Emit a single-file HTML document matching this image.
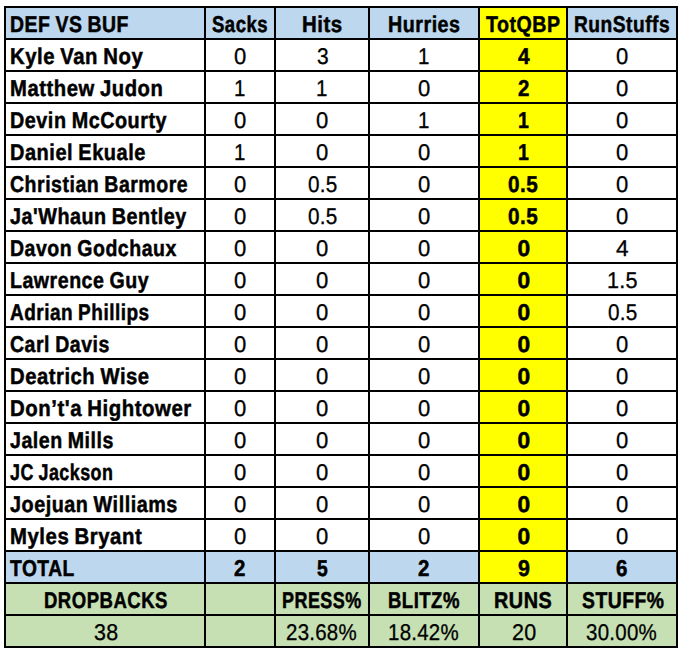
<!DOCTYPE html>
<html><head><meta charset="utf-8"><style>
html,body{margin:0;padding:0;background:#fff;width:684px;height:658px;overflow:hidden;}
body{position:relative;font-family:"Liberation Sans",sans-serif;color:#000;text-rendering:geometricPrecision;}
.g{position:absolute;left:4px;top:6px;width:674px;height:642px;background:#000;}
.c{position:absolute;}
.t{position:absolute;white-space:nowrap;line-height:0;font-size:22.75px;transform-origin:0 0;}
.b{font-weight:bold;}
.t{-webkit-text-stroke:0.3px #000;letter-spacing:0.3px;}
.t.b{-webkit-text-stroke:0.5px #000;letter-spacing:0.6px;word-spacing:-1px;}
</style></head><body>
<div class="g"></div>

<div class="c" style="left:6px;top:8px;width:198px;height:30px;background:#BDD7EE"></div>
<div class="c" style="left:206px;top:8px;width:68px;height:30px;background:#BDD7EE"></div>
<div class="c" style="left:276px;top:8px;width:92px;height:30px;background:#BDD7EE"></div>
<div class="c" style="left:370px;top:8px;width:108px;height:30px;background:#BDD7EE"></div>
<div class="c" style="left:480px;top:8px;width:86px;height:30px;background:#FFFF00"></div>
<div class="c" style="left:568px;top:8px;width:108px;height:30px;background:#BDD7EE"></div>
<div class="c" style="left:6px;top:40px;width:198px;height:30px;background:#FFFFFF"></div>
<div class="c" style="left:206px;top:40px;width:68px;height:30px;background:#FFFFFF"></div>
<div class="c" style="left:276px;top:40px;width:92px;height:30px;background:#FFFFFF"></div>
<div class="c" style="left:370px;top:40px;width:108px;height:30px;background:#FFFFFF"></div>
<div class="c" style="left:480px;top:40px;width:86px;height:30px;background:#FFFF00"></div>
<div class="c" style="left:568px;top:40px;width:108px;height:30px;background:#FFFFFF"></div>
<div class="c" style="left:6px;top:72px;width:198px;height:30px;background:#FFFFFF"></div>
<div class="c" style="left:206px;top:72px;width:68px;height:30px;background:#FFFFFF"></div>
<div class="c" style="left:276px;top:72px;width:92px;height:30px;background:#FFFFFF"></div>
<div class="c" style="left:370px;top:72px;width:108px;height:30px;background:#FFFFFF"></div>
<div class="c" style="left:480px;top:72px;width:86px;height:30px;background:#FFFF00"></div>
<div class="c" style="left:568px;top:72px;width:108px;height:30px;background:#FFFFFF"></div>
<div class="c" style="left:6px;top:104px;width:198px;height:30px;background:#FFFFFF"></div>
<div class="c" style="left:206px;top:104px;width:68px;height:30px;background:#FFFFFF"></div>
<div class="c" style="left:276px;top:104px;width:92px;height:30px;background:#FFFFFF"></div>
<div class="c" style="left:370px;top:104px;width:108px;height:30px;background:#FFFFFF"></div>
<div class="c" style="left:480px;top:104px;width:86px;height:30px;background:#FFFF00"></div>
<div class="c" style="left:568px;top:104px;width:108px;height:30px;background:#FFFFFF"></div>
<div class="c" style="left:6px;top:136px;width:198px;height:30px;background:#FFFFFF"></div>
<div class="c" style="left:206px;top:136px;width:68px;height:30px;background:#FFFFFF"></div>
<div class="c" style="left:276px;top:136px;width:92px;height:30px;background:#FFFFFF"></div>
<div class="c" style="left:370px;top:136px;width:108px;height:30px;background:#FFFFFF"></div>
<div class="c" style="left:480px;top:136px;width:86px;height:30px;background:#FFFF00"></div>
<div class="c" style="left:568px;top:136px;width:108px;height:30px;background:#FFFFFF"></div>
<div class="c" style="left:6px;top:168px;width:198px;height:30px;background:#FFFFFF"></div>
<div class="c" style="left:206px;top:168px;width:68px;height:30px;background:#FFFFFF"></div>
<div class="c" style="left:276px;top:168px;width:92px;height:30px;background:#FFFFFF"></div>
<div class="c" style="left:370px;top:168px;width:108px;height:30px;background:#FFFFFF"></div>
<div class="c" style="left:480px;top:168px;width:86px;height:30px;background:#FFFF00"></div>
<div class="c" style="left:568px;top:168px;width:108px;height:30px;background:#FFFFFF"></div>
<div class="c" style="left:6px;top:200px;width:198px;height:30px;background:#FFFFFF"></div>
<div class="c" style="left:206px;top:200px;width:68px;height:30px;background:#FFFFFF"></div>
<div class="c" style="left:276px;top:200px;width:92px;height:30px;background:#FFFFFF"></div>
<div class="c" style="left:370px;top:200px;width:108px;height:30px;background:#FFFFFF"></div>
<div class="c" style="left:480px;top:200px;width:86px;height:30px;background:#FFFF00"></div>
<div class="c" style="left:568px;top:200px;width:108px;height:30px;background:#FFFFFF"></div>
<div class="c" style="left:6px;top:232px;width:198px;height:30px;background:#FFFFFF"></div>
<div class="c" style="left:206px;top:232px;width:68px;height:30px;background:#FFFFFF"></div>
<div class="c" style="left:276px;top:232px;width:92px;height:30px;background:#FFFFFF"></div>
<div class="c" style="left:370px;top:232px;width:108px;height:30px;background:#FFFFFF"></div>
<div class="c" style="left:480px;top:232px;width:86px;height:30px;background:#FFFF00"></div>
<div class="c" style="left:568px;top:232px;width:108px;height:30px;background:#FFFFFF"></div>
<div class="c" style="left:6px;top:264px;width:198px;height:30px;background:#FFFFFF"></div>
<div class="c" style="left:206px;top:264px;width:68px;height:30px;background:#FFFFFF"></div>
<div class="c" style="left:276px;top:264px;width:92px;height:30px;background:#FFFFFF"></div>
<div class="c" style="left:370px;top:264px;width:108px;height:30px;background:#FFFFFF"></div>
<div class="c" style="left:480px;top:264px;width:86px;height:30px;background:#FFFF00"></div>
<div class="c" style="left:568px;top:264px;width:108px;height:30px;background:#FFFFFF"></div>
<div class="c" style="left:6px;top:296px;width:198px;height:30px;background:#FFFFFF"></div>
<div class="c" style="left:206px;top:296px;width:68px;height:30px;background:#FFFFFF"></div>
<div class="c" style="left:276px;top:296px;width:92px;height:30px;background:#FFFFFF"></div>
<div class="c" style="left:370px;top:296px;width:108px;height:30px;background:#FFFFFF"></div>
<div class="c" style="left:480px;top:296px;width:86px;height:30px;background:#FFFF00"></div>
<div class="c" style="left:568px;top:296px;width:108px;height:30px;background:#FFFFFF"></div>
<div class="c" style="left:6px;top:328px;width:198px;height:30px;background:#FFFFFF"></div>
<div class="c" style="left:206px;top:328px;width:68px;height:30px;background:#FFFFFF"></div>
<div class="c" style="left:276px;top:328px;width:92px;height:30px;background:#FFFFFF"></div>
<div class="c" style="left:370px;top:328px;width:108px;height:30px;background:#FFFFFF"></div>
<div class="c" style="left:480px;top:328px;width:86px;height:30px;background:#FFFF00"></div>
<div class="c" style="left:568px;top:328px;width:108px;height:30px;background:#FFFFFF"></div>
<div class="c" style="left:6px;top:360px;width:198px;height:30px;background:#FFFFFF"></div>
<div class="c" style="left:206px;top:360px;width:68px;height:30px;background:#FFFFFF"></div>
<div class="c" style="left:276px;top:360px;width:92px;height:30px;background:#FFFFFF"></div>
<div class="c" style="left:370px;top:360px;width:108px;height:30px;background:#FFFFFF"></div>
<div class="c" style="left:480px;top:360px;width:86px;height:30px;background:#FFFF00"></div>
<div class="c" style="left:568px;top:360px;width:108px;height:30px;background:#FFFFFF"></div>
<div class="c" style="left:6px;top:392px;width:198px;height:30px;background:#FFFFFF"></div>
<div class="c" style="left:206px;top:392px;width:68px;height:30px;background:#FFFFFF"></div>
<div class="c" style="left:276px;top:392px;width:92px;height:30px;background:#FFFFFF"></div>
<div class="c" style="left:370px;top:392px;width:108px;height:30px;background:#FFFFFF"></div>
<div class="c" style="left:480px;top:392px;width:86px;height:30px;background:#FFFF00"></div>
<div class="c" style="left:568px;top:392px;width:108px;height:30px;background:#FFFFFF"></div>
<div class="c" style="left:6px;top:424px;width:198px;height:30px;background:#FFFFFF"></div>
<div class="c" style="left:206px;top:424px;width:68px;height:30px;background:#FFFFFF"></div>
<div class="c" style="left:276px;top:424px;width:92px;height:30px;background:#FFFFFF"></div>
<div class="c" style="left:370px;top:424px;width:108px;height:30px;background:#FFFFFF"></div>
<div class="c" style="left:480px;top:424px;width:86px;height:30px;background:#FFFF00"></div>
<div class="c" style="left:568px;top:424px;width:108px;height:30px;background:#FFFFFF"></div>
<div class="c" style="left:6px;top:456px;width:198px;height:30px;background:#FFFFFF"></div>
<div class="c" style="left:206px;top:456px;width:68px;height:30px;background:#FFFFFF"></div>
<div class="c" style="left:276px;top:456px;width:92px;height:30px;background:#FFFFFF"></div>
<div class="c" style="left:370px;top:456px;width:108px;height:30px;background:#FFFFFF"></div>
<div class="c" style="left:480px;top:456px;width:86px;height:30px;background:#FFFF00"></div>
<div class="c" style="left:568px;top:456px;width:108px;height:30px;background:#FFFFFF"></div>
<div class="c" style="left:6px;top:488px;width:198px;height:30px;background:#FFFFFF"></div>
<div class="c" style="left:206px;top:488px;width:68px;height:30px;background:#FFFFFF"></div>
<div class="c" style="left:276px;top:488px;width:92px;height:30px;background:#FFFFFF"></div>
<div class="c" style="left:370px;top:488px;width:108px;height:30px;background:#FFFFFF"></div>
<div class="c" style="left:480px;top:488px;width:86px;height:30px;background:#FFFF00"></div>
<div class="c" style="left:568px;top:488px;width:108px;height:30px;background:#FFFFFF"></div>
<div class="c" style="left:6px;top:520px;width:198px;height:30px;background:#FFFFFF"></div>
<div class="c" style="left:206px;top:520px;width:68px;height:30px;background:#FFFFFF"></div>
<div class="c" style="left:276px;top:520px;width:92px;height:30px;background:#FFFFFF"></div>
<div class="c" style="left:370px;top:520px;width:108px;height:30px;background:#FFFFFF"></div>
<div class="c" style="left:480px;top:520px;width:86px;height:30px;background:#FFFF00"></div>
<div class="c" style="left:568px;top:520px;width:108px;height:30px;background:#FFFFFF"></div>
<div class="c" style="left:6px;top:552px;width:198px;height:30px;background:#BDD7EE"></div>
<div class="c" style="left:206px;top:552px;width:68px;height:30px;background:#BDD7EE"></div>
<div class="c" style="left:276px;top:552px;width:92px;height:30px;background:#BDD7EE"></div>
<div class="c" style="left:370px;top:552px;width:108px;height:30px;background:#BDD7EE"></div>
<div class="c" style="left:480px;top:552px;width:86px;height:30px;background:#FFFF00"></div>
<div class="c" style="left:568px;top:552px;width:108px;height:30px;background:#BDD7EE"></div>
<div class="c" style="left:6px;top:584px;width:198px;height:30px;background:#C6E0B4"></div>
<div class="c" style="left:206px;top:584px;width:68px;height:30px;background:#C6E0B4"></div>
<div class="c" style="left:276px;top:584px;width:92px;height:30px;background:#C6E0B4"></div>
<div class="c" style="left:370px;top:584px;width:108px;height:30px;background:#C6E0B4"></div>
<div class="c" style="left:480px;top:584px;width:86px;height:30px;background:#C6E0B4"></div>
<div class="c" style="left:568px;top:584px;width:108px;height:30px;background:#C6E0B4"></div>
<div class="c" style="left:6px;top:616px;width:198px;height:30px;background:#C6E0B4"></div>
<div class="c" style="left:206px;top:616px;width:68px;height:30px;background:#C6E0B4"></div>
<div class="c" style="left:276px;top:616px;width:92px;height:30px;background:#C6E0B4"></div>
<div class="c" style="left:370px;top:616px;width:108px;height:30px;background:#C6E0B4"></div>
<div class="c" style="left:480px;top:616px;width:86px;height:30px;background:#C6E0B4"></div>
<div class="c" style="left:568px;top:616px;width:108px;height:30px;background:#C6E0B4"></div>
<div class="t b" style="left:10.33px;top:23.70px;transform:scaleX(0.8541)">DEF VS BUF</div>
<div class="t b" style="left:212.09px;top:23.70px;transform:scaleX(0.8149)">Sacks</div>
<div class="t b" style="left:301.78px;top:23.70px;transform:scaleX(0.8982)">Hits</div>
<div class="t b" style="left:387.92px;top:23.70px;transform:scaleX(0.8652)">Hurries</div>
<div class="t b" style="left:486.30px;top:23.70px;transform:scaleX(0.8608)">TotQBP</div>
<div class="t b" style="left:574.05px;top:23.70px;transform:scaleX(0.8430)">RunStuffs</div>
<div class="t b" style="left:10.18px;top:55.70px;transform:scaleX(0.8927)">Kyle Van Noy</div>
<div class="t" style="left:234.12px;top:55.70px;transform:scaleX(0.9700)">0</div>
<div class="t" style="left:316.55px;top:55.70px;transform:scaleX(0.9200)">3</div>
<div class="t" style="left:418.34px;top:55.70px;transform:scaleX(0.9000)">1</div>
<div class="t b" style="left:518.13px;top:55.70px;transform:scaleX(0.9200)">4</div>
<div class="t" style="left:616.12px;top:55.70px;transform:scaleX(0.9700)">0</div>
<div class="t b" style="left:10.19px;top:87.70px;transform:scaleX(0.8898)">Matthew Judon</div>
<div class="t" style="left:234.34px;top:87.70px;transform:scaleX(0.9000)">1</div>
<div class="t" style="left:316.34px;top:87.70px;transform:scaleX(0.9000)">1</div>
<div class="t" style="left:418.12px;top:87.70px;transform:scaleX(0.9700)">0</div>
<div class="t b" style="left:518.38px;top:87.70px;transform:scaleX(0.9000)">2</div>
<div class="t" style="left:616.12px;top:87.70px;transform:scaleX(0.9700)">0</div>
<div class="t b" style="left:10.21px;top:119.70px;transform:scaleX(0.8698)">Devin McCourty</div>
<div class="t" style="left:234.12px;top:119.70px;transform:scaleX(0.9700)">0</div>
<div class="t" style="left:316.12px;top:119.70px;transform:scaleX(0.9700)">0</div>
<div class="t" style="left:418.34px;top:119.70px;transform:scaleX(0.9000)">1</div>
<div class="t b" style="left:518.19px;top:119.70px;transform:scaleX(0.8600)">1</div>
<div class="t" style="left:616.12px;top:119.70px;transform:scaleX(0.9700)">0</div>
<div class="t b" style="left:10.20px;top:151.70px;transform:scaleX(0.8788)">Daniel Ekuale</div>
<div class="t" style="left:234.34px;top:151.70px;transform:scaleX(0.9000)">1</div>
<div class="t" style="left:316.12px;top:151.70px;transform:scaleX(0.9700)">0</div>
<div class="t" style="left:418.12px;top:151.70px;transform:scaleX(0.9700)">0</div>
<div class="t b" style="left:518.19px;top:151.70px;transform:scaleX(0.8600)">1</div>
<div class="t" style="left:616.12px;top:151.70px;transform:scaleX(0.9700)">0</div>
<div class="t b" style="left:10.16px;top:183.70px;transform:scaleX(0.8578)">Christian Barmore</div>
<div class="t" style="left:234.12px;top:183.70px;transform:scaleX(0.9700)">0</div>
<div class="t" style="left:308.33px;top:183.70px;transform:scaleX(0.9100)">0.5</div>
<div class="t" style="left:418.12px;top:183.70px;transform:scaleX(0.9700)">0</div>
<div class="t b" style="left:507.87px;top:183.70px;transform:scaleX(0.9100)">0.5</div>
<div class="t" style="left:616.12px;top:183.70px;transform:scaleX(0.9700)">0</div>
<div class="t b" style="left:10.10px;top:215.70px;transform:scaleX(0.8684)">Ja'Whaun Bentley</div>
<div class="t" style="left:234.12px;top:215.70px;transform:scaleX(0.9700)">0</div>
<div class="t" style="left:308.33px;top:215.70px;transform:scaleX(0.9100)">0.5</div>
<div class="t" style="left:418.12px;top:215.70px;transform:scaleX(0.9700)">0</div>
<div class="t b" style="left:507.87px;top:215.70px;transform:scaleX(0.9100)">0.5</div>
<div class="t" style="left:616.12px;top:215.70px;transform:scaleX(0.9700)">0</div>
<div class="t b" style="left:10.23px;top:247.70px;transform:scaleX(0.8576)">Davon Godchaux</div>
<div class="t" style="left:234.12px;top:247.70px;transform:scaleX(0.9700)">0</div>
<div class="t" style="left:316.12px;top:247.70px;transform:scaleX(0.9700)">0</div>
<div class="t" style="left:418.12px;top:247.70px;transform:scaleX(0.9700)">0</div>
<div class="t b" style="left:517.62px;top:247.70px;transform:scaleX(1.0000)">0</div>
<div class="t" style="left:615.92px;top:247.70px;transform:scaleX(1.0000)">4</div>
<div class="t b" style="left:10.23px;top:279.70px;transform:scaleX(0.8600)">Lawrence Guy</div>
<div class="t" style="left:234.12px;top:279.70px;transform:scaleX(0.9700)">0</div>
<div class="t" style="left:316.12px;top:279.70px;transform:scaleX(0.9700)">0</div>
<div class="t" style="left:418.12px;top:279.70px;transform:scaleX(0.9700)">0</div>
<div class="t b" style="left:517.62px;top:279.70px;transform:scaleX(1.0000)">0</div>
<div class="t" style="left:607.33px;top:279.70px;transform:scaleX(0.9500)">1.5</div>
<div class="t b" style="left:10.29px;top:311.70px;transform:scaleX(0.8350)">Adrian Phillips</div>
<div class="t" style="left:234.12px;top:311.70px;transform:scaleX(0.9700)">0</div>
<div class="t" style="left:316.12px;top:311.70px;transform:scaleX(0.9700)">0</div>
<div class="t" style="left:418.12px;top:311.70px;transform:scaleX(0.9700)">0</div>
<div class="t b" style="left:517.62px;top:311.70px;transform:scaleX(1.0000)">0</div>
<div class="t" style="left:608.33px;top:311.70px;transform:scaleX(0.9100)">0.5</div>
<div class="t b" style="left:10.16px;top:343.70px;transform:scaleX(0.8586)">Carl Davis</div>
<div class="t" style="left:234.12px;top:343.70px;transform:scaleX(0.9700)">0</div>
<div class="t" style="left:316.12px;top:343.70px;transform:scaleX(0.9700)">0</div>
<div class="t" style="left:418.12px;top:343.70px;transform:scaleX(0.9700)">0</div>
<div class="t b" style="left:517.62px;top:343.70px;transform:scaleX(1.0000)">0</div>
<div class="t" style="left:616.12px;top:343.70px;transform:scaleX(0.9700)">0</div>
<div class="t b" style="left:10.19px;top:375.70px;transform:scaleX(0.8892)">Deatrich Wise</div>
<div class="t" style="left:234.12px;top:375.70px;transform:scaleX(0.9700)">0</div>
<div class="t" style="left:316.12px;top:375.70px;transform:scaleX(0.9700)">0</div>
<div class="t" style="left:418.12px;top:375.70px;transform:scaleX(0.9700)">0</div>
<div class="t b" style="left:517.62px;top:375.70px;transform:scaleX(1.0000)">0</div>
<div class="t" style="left:616.12px;top:375.70px;transform:scaleX(0.9700)">0</div>
<div class="t b" style="left:10.18px;top:407.70px;transform:scaleX(0.8960)">Don’t'a Hightower</div>
<div class="t" style="left:234.12px;top:407.70px;transform:scaleX(0.9700)">0</div>
<div class="t" style="left:316.12px;top:407.70px;transform:scaleX(0.9700)">0</div>
<div class="t" style="left:418.12px;top:407.70px;transform:scaleX(0.9700)">0</div>
<div class="t b" style="left:517.62px;top:407.70px;transform:scaleX(1.0000)">0</div>
<div class="t" style="left:616.12px;top:407.70px;transform:scaleX(0.9700)">0</div>
<div class="t b" style="left:10.10px;top:439.70px;transform:scaleX(0.8611)">Jalen Mills</div>
<div class="t" style="left:234.12px;top:439.70px;transform:scaleX(0.9700)">0</div>
<div class="t" style="left:316.12px;top:439.70px;transform:scaleX(0.9700)">0</div>
<div class="t" style="left:418.12px;top:439.70px;transform:scaleX(0.9700)">0</div>
<div class="t b" style="left:517.62px;top:439.70px;transform:scaleX(1.0000)">0</div>
<div class="t" style="left:616.12px;top:439.70px;transform:scaleX(0.9700)">0</div>
<div class="t b" style="left:10.10px;top:471.70px;transform:scaleX(0.7861)">JC Jackson</div>
<div class="t" style="left:234.12px;top:471.70px;transform:scaleX(0.9700)">0</div>
<div class="t" style="left:316.12px;top:471.70px;transform:scaleX(0.9700)">0</div>
<div class="t" style="left:418.12px;top:471.70px;transform:scaleX(0.9700)">0</div>
<div class="t b" style="left:517.62px;top:471.70px;transform:scaleX(1.0000)">0</div>
<div class="t" style="left:616.12px;top:471.70px;transform:scaleX(0.9700)">0</div>
<div class="t b" style="left:10.10px;top:503.70px;transform:scaleX(0.8699)">Joejuan Williams</div>
<div class="t" style="left:234.12px;top:503.70px;transform:scaleX(0.9700)">0</div>
<div class="t" style="left:316.12px;top:503.70px;transform:scaleX(0.9700)">0</div>
<div class="t" style="left:418.12px;top:503.70px;transform:scaleX(0.9700)">0</div>
<div class="t b" style="left:517.62px;top:503.70px;transform:scaleX(1.0000)">0</div>
<div class="t" style="left:616.12px;top:503.70px;transform:scaleX(0.9700)">0</div>
<div class="t b" style="left:10.18px;top:535.70px;transform:scaleX(0.8945)">Myles Bryant</div>
<div class="t" style="left:234.12px;top:535.70px;transform:scaleX(0.9700)">0</div>
<div class="t" style="left:316.12px;top:535.70px;transform:scaleX(0.9700)">0</div>
<div class="t" style="left:418.12px;top:535.70px;transform:scaleX(0.9700)">0</div>
<div class="t b" style="left:517.62px;top:535.70px;transform:scaleX(1.0000)">0</div>
<div class="t" style="left:616.12px;top:535.70px;transform:scaleX(0.9700)">0</div>
<div class="t b" style="left:9.80px;top:567.70px;transform:scaleX(0.8449)">TOTAL</div>
<div class="t b" style="left:234.47px;top:567.70px;transform:scaleX(0.9000)">2</div>
<div class="t b" style="left:316.68px;top:567.70px;transform:scaleX(0.8500)">5</div>
<div class="t b" style="left:418.48px;top:567.70px;transform:scaleX(0.9000)">2</div>
<div class="t b" style="left:518.12px;top:567.70px;transform:scaleX(0.9400)">9</div>
<div class="t b" style="left:616.48px;top:567.70px;transform:scaleX(0.9000)">6</div>
<div class="t b" style="left:44.48px;top:599.70px;transform:scaleX(0.8147)">DROPBACKS</div>
<div class="t b" style="left:282.21px;top:599.70px;transform:scaleX(0.7899)">PRESS%</div>
<div class="t b" style="left:388.18px;top:599.70px;transform:scaleX(0.8140)">BLITZ%</div>
<div class="t b" style="left:494.21px;top:599.70px;transform:scaleX(0.8716)">RUNS</div>
<div class="t b" style="left:581.58px;top:599.70px;transform:scaleX(0.8491)">STUFF%</div>
<div class="t" style="left:94.19px;top:631.70px;transform:scaleX(0.9417)">38</div>
<div class="t" style="left:286.30px;top:631.70px;transform:scaleX(0.8987)">23.68%</div>
<div class="t" style="left:388.35px;top:631.70px;transform:scaleX(0.8980)">18.42%</div>
<div class="t" style="left:511.95px;top:631.70px;transform:scaleX(0.9474)">20</div>
<div class="t" style="left:585.93px;top:631.70px;transform:scaleX(0.8997)">30.00%</div>
</body></html>
